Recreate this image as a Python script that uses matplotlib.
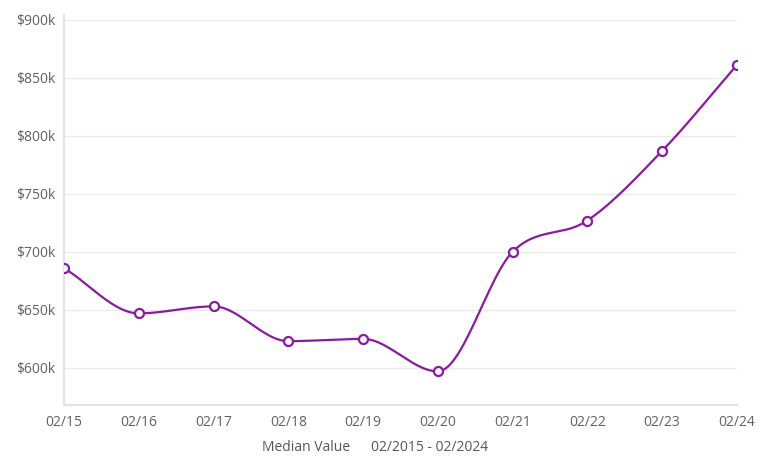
import numpy as np
import matplotlib.pyplot as plt

## Median value per year
labels = ['02/15', '02/16', '02/17', '02/18', '02/19', '02/20', '02/21', '02/22', '02/23', '02/24']
values = [686, 647, 653, 623, 625, 597, 700, 727, 787, 861]
yticks = [600, 650, 700, 750, 800, 850, 900]

purple = '#8a1a9e'
grey_txt = '#606060'

plt.rcParams['font.family'] = ['Open Sans', 'DejaVu Sans']


## monotone cubic curve through the points, like the chart library draws
def monotone_curve(x, y, n=30):
    x = np.asarray(x, float)
    y = np.asarray(y, float)
    h = np.diff(x)
    d = np.diff(y) / h
    m = np.zeros_like(y)
    m[0] = d[0]
    m[-1] = d[-1]
    for i in range(1, len(y) - 1):
        if d[i - 1] * d[i] <= 0:
            m[i] = 0
        else:
            m[i] = (d[i - 1] + d[i]) / 2
    for i in range(len(d)):
        if d[i] == 0:
            m[i] = m[i + 1] = 0
            continue
        a = m[i] / d[i]
        b = m[i + 1] / d[i]
        s = a * a + b * b
        if s > 9:
            t = 3 / np.sqrt(s)
            m[i] = t * a * d[i]
            m[i + 1] = t * b * d[i]
    xs, ys = [], []
    for i in range(len(d)):
        t = np.linspace(0, 1, n)
        h00 = 2 * t**3 - 3 * t**2 + 1
        h10 = t**3 - 2 * t**2 + t
        h01 = -2 * t**3 + 3 * t**2
        h11 = t**3 - t**2
        xs.extend(x[i] + t * h[i])
        ys.extend(h00 * y[i] + h10 * h[i] * m[i] + h01 * y[i + 1] + h11 * h[i] * m[i + 1])
    return np.array(xs), np.array(ys)


fig = plt.figure(figsize=(7.62, 4.61), dpi=100)
ax = fig.add_axes([0.084, 0.1215, 0.883, 0.8455])

xpos = np.arange(len(labels))
cx, cy = monotone_curve(xpos, values)
ax.plot(cx, cy, color=purple, lw=1.6, zorder=3)
ax.plot(xpos, values, 'o', ms=6.5, mfc='white', mec=purple, mew=1.6, zorder=4)

ax.set_xlim(0, len(labels) - 1)
ax.set_ylim(568, 904)
ax.set_xticks(xpos)
ax.set_xticklabels(labels)
ax.set_yticks(yticks)
ax.set_yticklabels(['$%dk' % v for v in yticks])
ax.tick_params(length=0, labelsize=10, colors=grey_txt, pad=6)
ax.tick_params(axis='x', pad=7)
ax.grid(axis='y', color='#ebebeb', lw=1)
ax.set_axisbelow(True)
for s in ['top', 'right']:
    ax.spines[s].set_visible(False)
ax.spines['left'].set_color('#e3e3e3')
ax.spines['left'].set_linewidth(1.5)
ax.spines['bottom'].set_color('#e3e3e3')
ax.spines['bottom'].set_linewidth(1.5)

fig.text(0.344, 0.022, 'Median Value', color='#555555', fontsize=10)
fig.text(0.487, 0.022, '02/2015 - 02/2024', color='#555555', fontsize=10)

fig.savefig('out.png', dpi=100)
